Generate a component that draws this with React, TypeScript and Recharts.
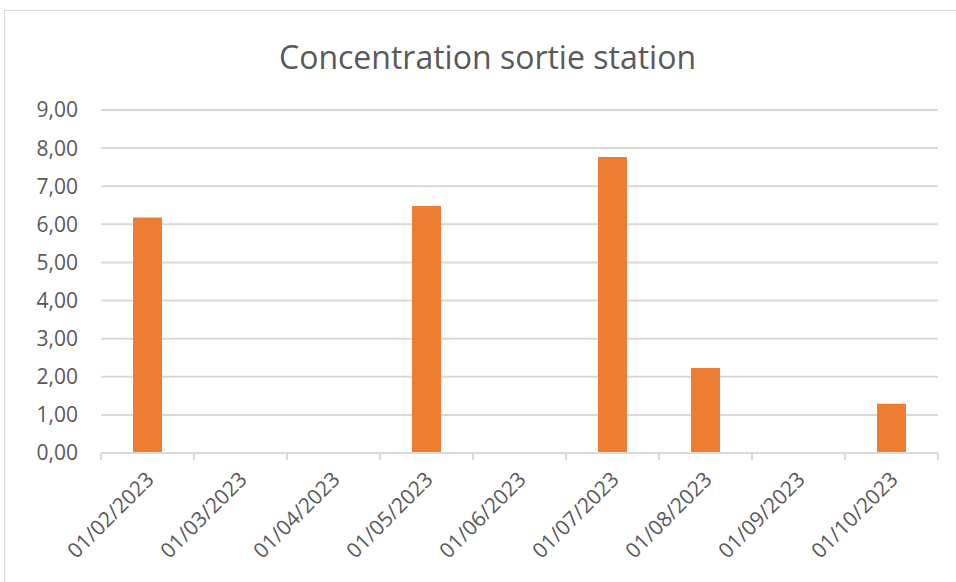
import React from "react";
import { BarChart, Bar, XAxis, YAxis, CartesianGrid } from "recharts";

const categories = [
  "01/02/2023",
  "01/03/2023",
  "01/04/2023",
  "01/05/2023",
  "01/06/2023",
  "01/07/2023",
  "01/08/2023",
  "01/09/2023",
  "01/10/2023",
];
const concentration: (number | null)[] = [6.18, null, null, 6.48, null, 7.77, 2.23, null, 1.29];
const yTicks = [0, 1, 2, 3, 4, 5, 6, 7, 8, 9];
const title = "Concentration sortie station";

const data = categories.map((c, i) => ({ date: c, value: concentration[i] }));

const FONT = "'Open Sans', 'Noto Sans', sans-serif";
const TEXT = "#595959";
const GRID = "#d9d9d9";

const XTick = (props: any) => {
  const { x, y, payload, index, visibleTicksCount, width } = props;
  const count = visibleTicksCount || categories.length;
  const half = (width || 837) / count / 2;
  return (
    <g>
      <line x1={x - half} x2={x - half} y1={y} y2={y + 7} stroke={GRID} strokeWidth={2} />
      {index === count - 1 && (
        <line x1={x + half} x2={x + half} y1={y} y2={y + 7} stroke={GRID} strokeWidth={2} />
      )}
      <g transform={`translate(${x + 2},${y + 22})`}>
        <text
          transform="rotate(-45)"
          textAnchor="end"
          dominantBaseline="central"
          fill={TEXT}
          fontSize={21}
          fontFamily={FONT}
        >
          {payload.value}
        </text>
      </g>
    </g>
  );
};

export default function App() {
  return (
    <div style={{ position: "absolute", left: 0, top: 0, width: 956, height: 582, overflow: "hidden", background: "#fff" }}>
      <div
        style={{
          position: "absolute",
          left: 4,
          top: 10,
          width: 970,
          height: 600,
          border: `1px solid ${GRID}`,
          boxSizing: "border-box",
        }}
      />
      <div
        style={{
          position: "absolute",
          left: 0,
          width: 975,
          top: 35,
          lineHeight: "44px",
          textAlign: "center",
          fontFamily: FONT,
          fontSize: 32,
          color: TEXT,
        }}
      >
        {title}
      </div>
      <div style={{ position: "absolute", left: 0, top: 0 }}>
        <BarChart
          width={956}
          height={582}
          data={data}
          margin={{ top: 110, right: 18, bottom: 0, left: 0 }}
          barCategoryGap={32}
        >
          <CartesianGrid vertical={false} stroke={GRID} strokeWidth={2} />
          <XAxis
            dataKey="date"
            type="category"
            height={129}
            axisLine={{ stroke: GRID, strokeWidth: 2 }}
            tickLine={false}
            tickSize={0}
            tickMargin={0}
            interval={0}
            tick={<XTick />}
          />
          <YAxis
            domain={[0, 9]}
            ticks={yTicks}
            width={101}
            axisLine={false}
            tickLine={false}
            tickSize={0}
            tickMargin={23}
            tick={{ fill: TEXT, fontSize: 21, fontFamily: FONT }}
            tickFormatter={(v: number) => v.toFixed(2).replace(".", ",")}
          />
          <Bar dataKey="value" fill="#ED7D31" isAnimationActive={false} />
        </BarChart>
      </div>
    </div>
  );
}
